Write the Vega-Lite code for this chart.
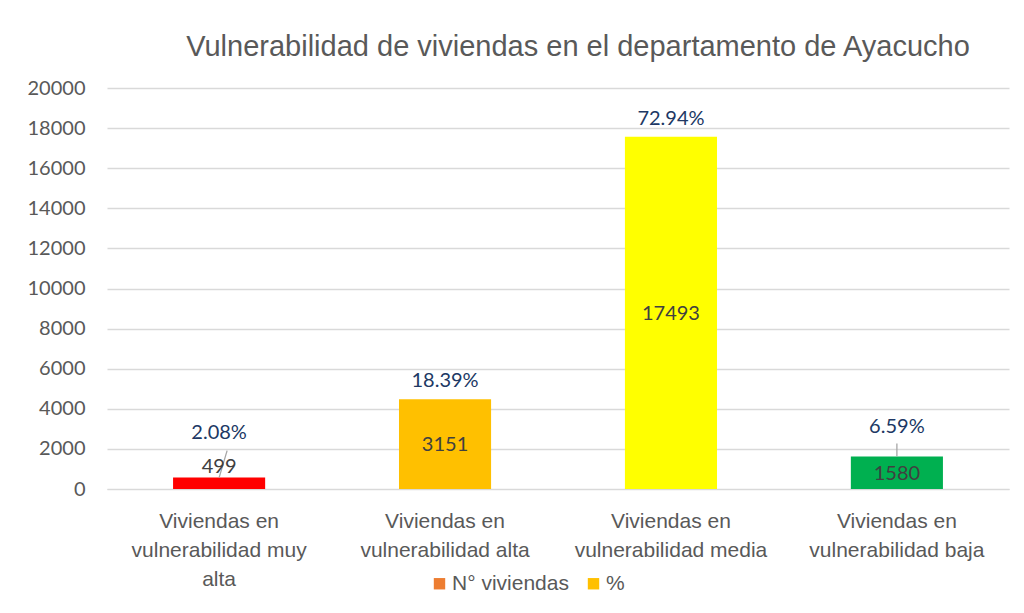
{
  "$schema": "https://vega.github.io/schema/vega-lite/v6.json",
  "width": 902,
  "height": 401,
  "padding": {"left": 27, "top": 33, "right": 10, "bottom": 5},
  "background": "white",
  "title": {
    "text": "Vulnerabilidad de viviendas en el departamento de Ayacucho",
    "font": "Liberation Sans",
    "fontSize": 29,
    "fontWeight": "normal",
    "color": "#595959",
    "anchor": "middle",
    "dx": 20,
    "offset": 16
  },
  "config": {"view": {"stroke": null}},
  "datasets": {
    "viviendas": [
      {"categoria": "Viviendas en vulnerabilidad muy alta", "altura": 570, "viviendas": 499, "porcentaje": "2.08%"},
      {"categoria": "Viviendas en vulnerabilidad alta", "altura": 4480, "viviendas": 3151, "porcentaje": "18.39%"},
      {"categoria": "Viviendas en vulnerabilidad media", "altura": 17570, "viviendas": 17493, "porcentaje": "72.94%"},
      {"categoria": "Viviendas en vulnerabilidad baja", "altura": 1620, "viviendas": 1580, "porcentaje": "6.59%"}
    ],
    "series": [{"serie": "N° viviendas"}, {"serie": "%"}]
  },
  "data": {"name": "viviendas"},
  "encoding": {
    "x": {
      "field": "categoria",
      "type": "nominal",
      "sort": null,
      "scale": {"paddingInner": 0.5924, "paddingOuter": 0.2924},
      "axis": {
        "title": null,
        "labelAngle": 0,
        "labelFont": "Liberation Sans",
        "labelFontSize": 21,
        "labelColor": "#595959",
        "labelLineHeight": 29,
        "labelPadding": 21,
        "labelBaseline": "top",
        "labelLimit": 0,
        "ticks": false,
        "domain": true,
        "domainColor": "#D9D9D9",
        "labelExpr": "datum.label == 'Viviendas en vulnerabilidad muy alta' ? ['Viviendas en', 'vulnerabilidad muy', 'alta'] : ['Viviendas en', substring(datum.label, 13)]"
      }
    }
  },
  "layer": [
    {
      "mark": {"type": "bar"},
      "encoding": {
        "y": {
          "field": "altura",
          "type": "quantitative",
          "scale": {"domain": [0, 20000], "nice": false},
          "axis": {
            "title": null,
            "values": [0, 2000, 4000, 6000, 8000, 10000, 12000, 14000, 16000, 18000, 20000],
            "format": "d",
            "labelFont": "Lato",
            "labelFontSize": 20,
            "labelColor": "#595959",
            "labelPadding": 22,
            "ticks": false,
            "tickSize": 0,
            "domain": false,
            "grid": true,
            "gridColor": "#D9D9D9",
            "gridWidth": 1.3
          }
        },
        "color": {
          "field": "categoria",
          "type": "nominal",
          "scale": {
            "domain": ["Viviendas en vulnerabilidad muy alta", "Viviendas en vulnerabilidad alta", "Viviendas en vulnerabilidad media", "Viviendas en vulnerabilidad baja"],
            "range": ["#FF0000", "#FFC000", "#FFFF00", "#00B050"]
          },
          "legend": null
        }
      }
    },
    {
      "transform": [{"filter": "datum.categoria == 'Viviendas en vulnerabilidad baja'"}],
      "mark": {"type": "rule", "color": "#A6A6A6", "strokeWidth": 1.3, "y2Offset": -13},
      "encoding": {
        "y": {"field": "altura", "type": "quantitative"},
        "y2": {"field": "altura"}
      }
    },
    {
      "transform": [{"filter": "datum.categoria == 'Viviendas en vulnerabilidad muy alta'"}],
      "mark": {"type": "rule", "color": "#A6A6A6", "strokeWidth": 1.3, "y2Offset": -27, "x2Offset": 8},
      "encoding": {
        "x2": {"field": "categoria"},
        "y": {"field": "altura", "type": "quantitative"},
        "y2": {"field": "altura"}
      }
    },
    {
      "transform": [{"filter": "datum.categoria == 'Viviendas en vulnerabilidad alta' || datum.categoria == 'Viviendas en vulnerabilidad media'"}],
      "mark": {"type": "text", "font": "Lato", "fontSize": 20, "color": "#203864", "baseline": "middle", "dy": -18},
      "encoding": {
        "y": {"field": "altura", "type": "quantitative"},
        "text": {"field": "porcentaje"}
      }
    },
    {
      "transform": [{"filter": "datum.categoria == 'Viviendas en vulnerabilidad muy alta'"}],
      "mark": {"type": "text", "font": "Lato", "fontSize": 20, "color": "#203864", "baseline": "middle", "dy": -45},
      "encoding": {
        "y": {"field": "altura", "type": "quantitative"},
        "text": {"field": "porcentaje"}
      }
    },
    {
      "transform": [{"filter": "datum.categoria == 'Viviendas en vulnerabilidad baja'"}],
      "mark": {"type": "text", "font": "Lato", "fontSize": 20, "color": "#203864", "baseline": "middle", "dy": -30},
      "encoding": {
        "y": {"field": "altura", "type": "quantitative"},
        "text": {"field": "porcentaje"}
      }
    },
    {
      "transform": [{"filter": "datum.categoria == 'Viviendas en vulnerabilidad muy alta'"}],
      "mark": {"type": "text", "font": "Lato", "fontSize": 20, "color": "#404040", "baseline": "middle", "dy": -11},
      "encoding": {
        "y": {"field": "altura", "type": "quantitative"},
        "text": {"field": "viviendas"}
      }
    },
    {
      "transform": [
        {"filter": "datum.categoria != 'Viviendas en vulnerabilidad muy alta'"},
        {"calculate": "datum.altura / 2", "as": "mitad"}
      ],
      "mark": {"type": "text", "font": "Lato", "fontSize": 20, "color": "#404040", "baseline": "middle", "dy": 1},
      "encoding": {
        "y": {"field": "mitad", "type": "quantitative"},
        "text": {"field": "viviendas"}
      }
    },
    {
      "data": {"name": "series"},
      "mark": {"type": "square", "opacity": 0},
      "encoding": {
        "x": null,
        "color": {
          "field": "serie",
          "type": "nominal",
          "sort": null,
          "scale": {"domain": ["N° viviendas", "%"], "range": ["#ED7D31", "#FFC000"]},
          "legend": {
            "title": null,
            "orient": "none",
            "legendX": 322,
            "legendY": 485,
            "direction": "horizontal",
            "symbolType": "square",
            "symbolSize": 130,
            "symbolOpacity": 1,
            "symbolStrokeWidth": 0,
            "labelFont": "Liberation Sans",
            "labelFontSize": 21,
            "labelColor": "#595959",
            "labelOffset": 2,
            "columnPadding": 14
          }
        }
      }
    }
  ],
  "resolve": {"scale": {"color": "independent"}}
}
